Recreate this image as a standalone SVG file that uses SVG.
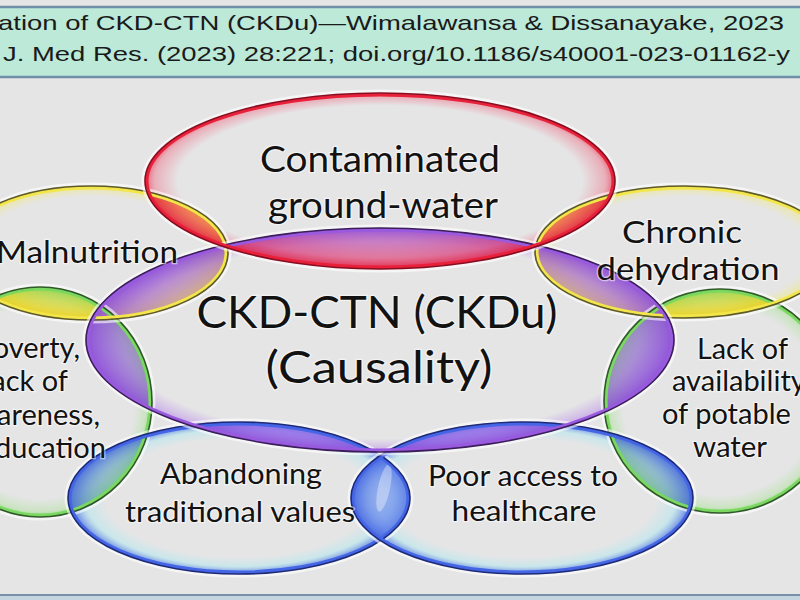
<svg xmlns="http://www.w3.org/2000/svg" width="800" height="600" viewBox="0 0 800 600">
<style>
.lbl{font-family:Lato,"Open Sans","DejaVu Sans",sans-serif;fill:#121212;stroke:#ffffff;stroke-width:2.5;stroke-opacity:.55;paint-order:stroke;}
.big{font-size:44px;}
.mid{font-size:36px;}
.med{font-size:31px;}
.sm{font-size:29px;}
.hdr{font-family:"Liberation Sans",Arial,sans-serif;font-size:21px;fill:#1a1a1a;}
.dark{fill:none;stroke-width:1.6;}
.band{fill:none;stroke-width:3;}
.halo{fill:none;stroke:#ffffff;stroke-width:3;stroke-opacity:.6;}
</style>
<defs>
<radialGradient id="gRed"><stop offset="0" stop-color="#f04a66" stop-opacity="0"/><stop offset=".86" stop-color="#f04a66" stop-opacity="0"/><stop offset=".96" stop-color="#f04a66" stop-opacity=".35"/><stop offset="1" stop-color="#e8203a" stop-opacity=".7"/></radialGradient>
<radialGradient id="lRed"><stop offset="0" stop-color="#ee5070" stop-opacity="0"/><stop offset=".6" stop-color="#ee5070" stop-opacity=".15"/><stop offset=".88" stop-color="#ee4a66" stop-opacity=".6"/><stop offset="1" stop-color="#e02040" stop-opacity=".9"/></radialGradient>
<radialGradient id="gPur"><stop offset="0" stop-color="#a868e8" stop-opacity="0"/><stop offset=".88" stop-color="#a868e8" stop-opacity="0"/><stop offset=".97" stop-color="#a868e8" stop-opacity=".35"/><stop offset="1" stop-color="#8a48d8" stop-opacity=".7"/></radialGradient>
<radialGradient id="lPur"><stop offset="0" stop-color="#b888f0" stop-opacity="0"/><stop offset=".6" stop-color="#b888f0" stop-opacity=".2"/><stop offset=".88" stop-color="#a46ce8" stop-opacity=".7"/><stop offset="1" stop-color="#8a4ad8" stop-opacity=".9"/></radialGradient>
<radialGradient id="gYel"><stop offset="0" stop-color="#f4ea60" stop-opacity="0"/><stop offset=".84" stop-color="#f4ea60" stop-opacity="0"/><stop offset=".95" stop-color="#f4ea60" stop-opacity=".35"/><stop offset="1" stop-color="#eedc30" stop-opacity=".75"/></radialGradient>
<radialGradient id="lYel"><stop offset="0" stop-color="#f4e040" stop-opacity="0"/><stop offset=".6" stop-color="#f4e040" stop-opacity=".25"/><stop offset=".88" stop-color="#f2d830" stop-opacity=".75"/><stop offset="1" stop-color="#eed020" stop-opacity=".95"/></radialGradient>
<radialGradient id="gGrn"><stop offset="0" stop-color="#90e070" stop-opacity="0"/><stop offset=".84" stop-color="#90e070" stop-opacity="0"/><stop offset=".95" stop-color="#90e070" stop-opacity=".3"/><stop offset="1" stop-color="#6ad050" stop-opacity=".7"/></radialGradient>
<radialGradient id="lGrn"><stop offset="0" stop-color="#9ee080" stop-opacity="0"/><stop offset=".6" stop-color="#9ee080" stop-opacity=".2"/><stop offset=".88" stop-color="#88d870" stop-opacity=".65"/><stop offset="1" stop-color="#6ad050" stop-opacity=".9"/></radialGradient>
<radialGradient id="gBlu"><stop offset="0" stop-color="#a8e8f0" stop-opacity="0"/><stop offset=".78" stop-color="#a8e8f0" stop-opacity="0"/><stop offset=".9" stop-color="#a8e8f0" stop-opacity=".45"/><stop offset="1" stop-color="#3a5ae0" stop-opacity=".85"/></radialGradient>
<radialGradient id="lBlu"><stop offset="0" stop-color="#90b8f0" stop-opacity="0"/><stop offset=".55" stop-color="#a0c8f2" stop-opacity=".15"/><stop offset=".85" stop-color="#7898ee" stop-opacity=".55"/><stop offset="1" stop-color="#4464e0" stop-opacity=".85"/></radialGradient>

<clipPath id="ovRed"><ellipse cx="380" cy="340" rx="294" ry="112"/><ellipse cx="91" cy="253" rx="137" ry="67"/><ellipse cx="684" cy="252" rx="149" ry="66"/></clipPath>
<clipPath id="ovPur"><ellipse cx="380" cy="181" rx="235" ry="88"/><ellipse cx="91" cy="253" rx="137" ry="67"/><ellipse cx="684" cy="252" rx="149" ry="66"/><ellipse cx="40" cy="402" rx="112" ry="115"/><ellipse cx="720" cy="401" rx="116" ry="112"/><ellipse cx="239" cy="498" rx="171" ry="76"/><ellipse cx="522" cy="498" rx="171" ry="76"/></clipPath>
<clipPath id="ovYL"><ellipse cx="380" cy="181" rx="235" ry="88"/><ellipse cx="380" cy="340" rx="294" ry="112"/><ellipse cx="40" cy="402" rx="112" ry="115"/></clipPath>
<clipPath id="ovYR"><ellipse cx="380" cy="181" rx="235" ry="88"/><ellipse cx="380" cy="340" rx="294" ry="112"/><ellipse cx="720" cy="401" rx="116" ry="112"/></clipPath>
<clipPath id="ovGL"><ellipse cx="91" cy="253" rx="137" ry="67"/><ellipse cx="380" cy="340" rx="294" ry="112"/><ellipse cx="239" cy="498" rx="171" ry="76"/></clipPath>
<clipPath id="ovGR"><ellipse cx="684" cy="252" rx="149" ry="66"/><ellipse cx="380" cy="340" rx="294" ry="112"/><ellipse cx="522" cy="498" rx="171" ry="76"/></clipPath>
<clipPath id="ovBL"><ellipse cx="380" cy="340" rx="294" ry="112"/><ellipse cx="40" cy="402" rx="112" ry="115"/><ellipse cx="522" cy="498" rx="171" ry="76"/></clipPath>
<clipPath id="ovBR"><ellipse cx="380" cy="340" rx="294" ry="112"/><ellipse cx="720" cy="401" rx="116" ry="112"/><ellipse cx="239" cy="498" rx="171" ry="76"/></clipPath>
</defs>

<rect x="0" y="0" width="800" height="600" fill="#e5e5e6"/>

<g id="header">
<rect x="-3" y="7" width="806" height="70" fill="#bce9d8" stroke="#6f8fa8" stroke-width="2.5"/>
<text class="hdr" x="-2" y="30" textLength="786" lengthAdjust="spacingAndGlyphs">ation of CKD-CTN (CKDu)—Wimalawansa &amp; Dissanayake, 2023</text>
<text class="hdr" x="3" y="61" textLength="787" lengthAdjust="spacingAndGlyphs">J. Med Res. (2023) 28:221; doi.org/10.1186/s40001-023-01162-y</text>
</g>

<g id="fills">
<ellipse cx="40" cy="402" rx="112" ry="115" fill="url(#gGrn)"/>
<ellipse cx="720" cy="401" rx="116" ry="112" fill="url(#gGrn)"/>
<ellipse cx="91" cy="253" rx="137" ry="67" fill="url(#gYel)"/>
<ellipse cx="684" cy="252" rx="149" ry="66" fill="url(#gYel)"/>
<ellipse cx="239" cy="498" rx="171" ry="76" fill="url(#gBlu)"/>
<ellipse cx="522" cy="498" rx="171" ry="76" fill="url(#gBlu)"/>
<ellipse cx="380" cy="340" rx="294" ry="112" fill="url(#gPur)"/>
<ellipse cx="380" cy="181" rx="235" ry="88" fill="url(#gRed)"/>
</g>

<g id="overlaps">
<ellipse cx="40" cy="402" rx="112" ry="115" fill="url(#lGrn)" clip-path="url(#ovGL)"/>
<ellipse cx="720" cy="401" rx="116" ry="112" fill="url(#lGrn)" clip-path="url(#ovGR)"/>
<ellipse cx="91" cy="253" rx="137" ry="67" fill="url(#lYel)" clip-path="url(#ovYL)"/>
<ellipse cx="684" cy="252" rx="149" ry="66" fill="url(#lYel)" clip-path="url(#ovYR)"/>
<ellipse cx="239" cy="498" rx="171" ry="76" fill="url(#lBlu)" clip-path="url(#ovBL)"/>
<ellipse cx="522" cy="498" rx="171" ry="76" fill="url(#lBlu)" clip-path="url(#ovBR)"/>
<ellipse cx="380" cy="340" rx="294" ry="112" fill="url(#lPur)" clip-path="url(#ovPur)"/>
<ellipse cx="380" cy="181" rx="235" ry="88" fill="url(#lRed)" clip-path="url(#ovRed)"/>
<ellipse cx="384" cy="488" rx="6" ry="24" fill="#ffffff" opacity=".35" transform="rotate(12 384 488)"/>
</g>

<g id="n-green-left">
<ellipse class="halo" cx="40" cy="402" rx="114" ry="117"/>
<ellipse class="band" cx="40" cy="402" rx="110" ry="113" stroke="#7ad860"/>
<ellipse class="dark" cx="40" cy="402" rx="112" ry="115" stroke="#2f5a28"/>
</g>
<g id="n-green-right">
<ellipse class="halo" cx="720" cy="401" rx="118" ry="114"/>
<ellipse class="band" cx="720" cy="401" rx="114" ry="110" stroke="#7ad860"/>
<ellipse class="dark" cx="720" cy="401" rx="116" ry="112" stroke="#2f5a28"/>
</g>
<g id="n-yellow-left">
<ellipse class="halo" cx="91" cy="253" rx="139" ry="69"/>
<ellipse class="band" cx="91" cy="253" rx="135" ry="65" stroke="#f2e64a"/>
<ellipse class="dark" cx="91" cy="253" rx="137" ry="67" stroke="#5e5a28"/>
</g>
<g id="n-yellow-right">
<ellipse class="halo" cx="684" cy="252" rx="151" ry="68"/>
<ellipse class="band" cx="684" cy="252" rx="147" ry="64" stroke="#f2e64a"/>
<ellipse class="dark" cx="684" cy="252" rx="149" ry="66" stroke="#5e5a28"/>
</g>
<g id="n-blue-left">
<ellipse class="halo" cx="239" cy="498" rx="173" ry="78"/>
<ellipse class="band" cx="239" cy="498" rx="169" ry="74" stroke="#4466e6"/>
<ellipse class="dark" cx="239" cy="498" rx="171" ry="76" stroke="#1c2a78"/>
</g>
<g id="n-blue-right">
<ellipse class="halo" cx="522" cy="498" rx="173" ry="78"/>
<ellipse class="band" cx="522" cy="498" rx="169" ry="74" stroke="#4466e6"/>
<ellipse class="dark" cx="522" cy="498" rx="171" ry="76" stroke="#1c2a78"/>
</g>
<g id="n-purple">
<ellipse class="halo" cx="380" cy="340" rx="296" ry="114"/>
<ellipse class="band" cx="380" cy="340" rx="292" ry="110" stroke="#9a5ae0"/>
<ellipse class="dark" cx="380" cy="340" rx="294" ry="112" stroke="#3c1e5c"/>
</g>
<g id="n-red">
<ellipse class="halo" cx="380" cy="181" rx="237" ry="90"/>
<ellipse class="band" cx="380" cy="181" rx="233" ry="86" stroke="#e8203a"/>
<ellipse class="dark" cx="380" cy="181" rx="235" ry="88" stroke="#8a0c20"/>
</g>

<g id="labels">
<text class="lbl mid" x="380" y="172" text-anchor="middle" textLength="240" lengthAdjust="spacingAndGlyphs">Contaminated</text>
<text class="lbl mid" x="383" y="218" text-anchor="middle" textLength="230" lengthAdjust="spacingAndGlyphs">ground-water</text>
<text class="lbl big" x="377" y="328" text-anchor="middle" textLength="361" lengthAdjust="spacingAndGlyphs">CKD-CTN (CKDu)</text>
<text class="lbl big" x="379" y="383" text-anchor="middle" textLength="227" lengthAdjust="spacingAndGlyphs">(Causality)</text>
<text class="lbl med" x="87" y="263" text-anchor="middle" textLength="182" lengthAdjust="spacingAndGlyphs">Malnutrition</text>
<text class="lbl med" x="682" y="243" text-anchor="middle" textLength="120" lengthAdjust="spacingAndGlyphs">Chronic</text>
<text class="lbl med" x="688" y="280" text-anchor="middle" textLength="183" lengthAdjust="spacingAndGlyphs">dehydration</text>
<text class="lbl sm" x="80" y="358" text-anchor="end">Poverty,</text>
<text class="lbl sm" x="68" y="391" text-anchor="end">lack of</text>
<text class="lbl sm" x="100" y="425" text-anchor="end">awareness,</text>
<text class="lbl sm" x="106" y="458" text-anchor="end">education</text>
<text class="lbl sm" x="697" y="359" textLength="91" lengthAdjust="spacingAndGlyphs">Lack of</text>
<text class="lbl sm" x="672" y="391">availability</text>
<text class="lbl sm" x="662" y="424">of potable</text>
<text class="lbl sm" x="693" y="457" textLength="74" lengthAdjust="spacingAndGlyphs">water</text>
<text class="lbl sm" x="241" y="484" text-anchor="middle" textLength="162" lengthAdjust="spacingAndGlyphs">Abandoning</text>
<text class="lbl sm" x="240" y="522" text-anchor="middle" textLength="230" lengthAdjust="spacingAndGlyphs">traditional values</text>
<text class="lbl sm" x="523" y="486" text-anchor="middle" textLength="190" lengthAdjust="spacingAndGlyphs">Poor access to</text>
<text class="lbl sm" x="524" y="521" text-anchor="middle" textLength="145" lengthAdjust="spacingAndGlyphs">healthcare</text>
</g>

<rect x="-3" y="595" width="806" height="10" fill="#c5d5df" stroke="#7890a8" stroke-width="2"/>
</svg>
